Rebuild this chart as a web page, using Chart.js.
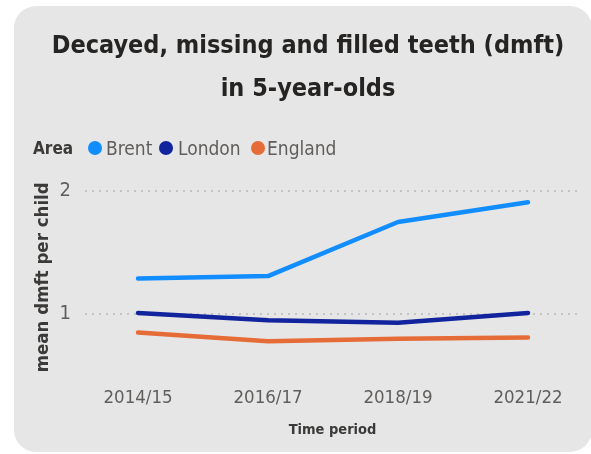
<!DOCTYPE html>
<html>
<head>
<meta charset="utf-8">
<script src="https://cdn.jsdelivr.net/npm/chart.js@4.4.1/dist/chart.umd.min.js"></script>
<style>
    body { margin: 0; background: #ffffff; width: 591px; height: 454px; overflow: hidden; position: relative; }
    #panel {
        position: absolute; left: 14px; top: 6px; width: 578px; height: 446px;
        background: #e6e6e6; border-radius: 22px; overflow: hidden;
    }
    #chartBox { position: absolute; left: 0; top: 0; width: 578px; height: 446px; }
    #legend {
        position: absolute; left: 0; top: 130px; width: 578px; height: 24px;
        font-family: "Liberation Sans Narrow", "DejaVu Sans Condensed", sans-serif;
        font-size: 19px; color: #605e5c; white-space: nowrap;
    }
    #legend span { position: absolute; top: 0; line-height: 24px; }
    #legend .title { font-weight: bold; font-size: 17px; color: #3b3a39; }
    #legend .dot { width: 14px; height: 14px; border-radius: 50%; top: 5px; }
</style>
</head>
<body>
<div id="panel">
    <div id="chartBox"><canvas id="myChart"></canvas></div>
    <div id="legend"></div>
</div>
<script>
const narrow = "'Liberation Sans Narrow', 'DejaVu Sans Condensed', sans-serif";

const periods = ["2014/15", "2016/17", "2018/19", "2021/22"];
const areas = ["Brent", "London", "England"];
const colours = ["#118dff", "#12239e", "#e66c37"];
const brent = [1.29, 1.31, 1.75, 1.91];
const london = [1.01, 0.95, 0.93, 1.01];
const england = [0.85, 0.78, 0.80, 0.81];
const yTicks = [1, 2];

const series = [brent, london, england];

// legend row (html), positions
const legend = document.getElementById("legend");
const dotLeft = [74, 145, 237];
const textLeft = [92, 164, 253];
legend.innerHTML = '<span class="title" style="left:19px">Area</span>';
areas.forEach((name, i) => {
    legend.innerHTML += `<span class="dot" style="left:${dotLeft[i]}px;background:${colours[i]}"></span>` +
        `<span style="left:${textLeft[i]}px">${name}</span>`;
});

const datasets = series.map((values, i) => ({
    label: areas[i],
    data: values.map((v, j) => ({ x: j, y: v })),
    borderColor: colours[i],
    backgroundColor: colours[i],
    borderWidth: 4.5,
    pointRadius: 0,
    tension: 0,
    borderCapStyle: "round",
    borderJoinStyle: "round",
}));

const ctx = document.getElementById("myChart");
const myChart = new Chart(ctx, {
    type: "line",
    data: { datasets: datasets },
    options: {
        responsive: true,
        maintainAspectRatio: false,
        animation: false,
        layout: { padding: { left: 22, right: 12, top: 0, bottom: 0 } },
        plugins: {
            legend: { display: false },
            tooltip: { enabled: false },
            title: {
                display: true,
                text: ["Decayed, missing and filled teeth (dmft)", "in 5-year-olds"],
                color: "#252423",
                font: { family: narrow, size: 25, weight: "bold", lineHeight: "43px" },
                padding: { top: 19, bottom: 68 },
            },
        },
        scales: {
            x: {
                type: "linear",
                min: -0.408,
                max: 3.4,
                afterBuildTicks: (scale) => {
                    scale.ticks = periods.map((p, i) => ({ value: i }));
                },
                afterFit: (scale) => { scale.height = 76.4; },
                grid: { display: false },
                border: { display: false },
                ticks: {
                    color: "#605e5c",
                    font: { family: narrow, size: 18.5 },
                    padding: 3,
                    maxRotation: 0,
                    callback: (v) => periods[v],
                },
                title: {
                    display: true,
                    text: "Time period",
                    color: "#3b3a39",
                    font: { family: narrow, size: 14.5, weight: "bold" },
                    padding: { top: 0, bottom: 13 },
                },
            },
            y: {
                min: 0.5,
                max: 2.1,
                afterBuildTicks: (scale) => {
                    scale.ticks = yTicks.map((v) => ({ value: v }));
                },
                afterFit: (scale) => { scale.width = 49; },
                grid: {
                    color: "#c4c4c4",
                    lineWidth: 2,
                    drawTicks: false,
                },
                border: { display: false, dash: [2, 5] },
                ticks: {
                    color: "#605e5c",
                    font: { family: narrow, size: 20 },
                    padding: 14,
                },
                title: {
                    display: true,
                    text: "mean dmft per child",
                    color: "#3b3a39",
                    font: { family: narrow, size: 18.5, weight: "bold", lineHeight: 1 },
                    padding: { top: -2, bottom: 0 },
                },
            },
        },
    },
});
</script>
</body>
</html>
